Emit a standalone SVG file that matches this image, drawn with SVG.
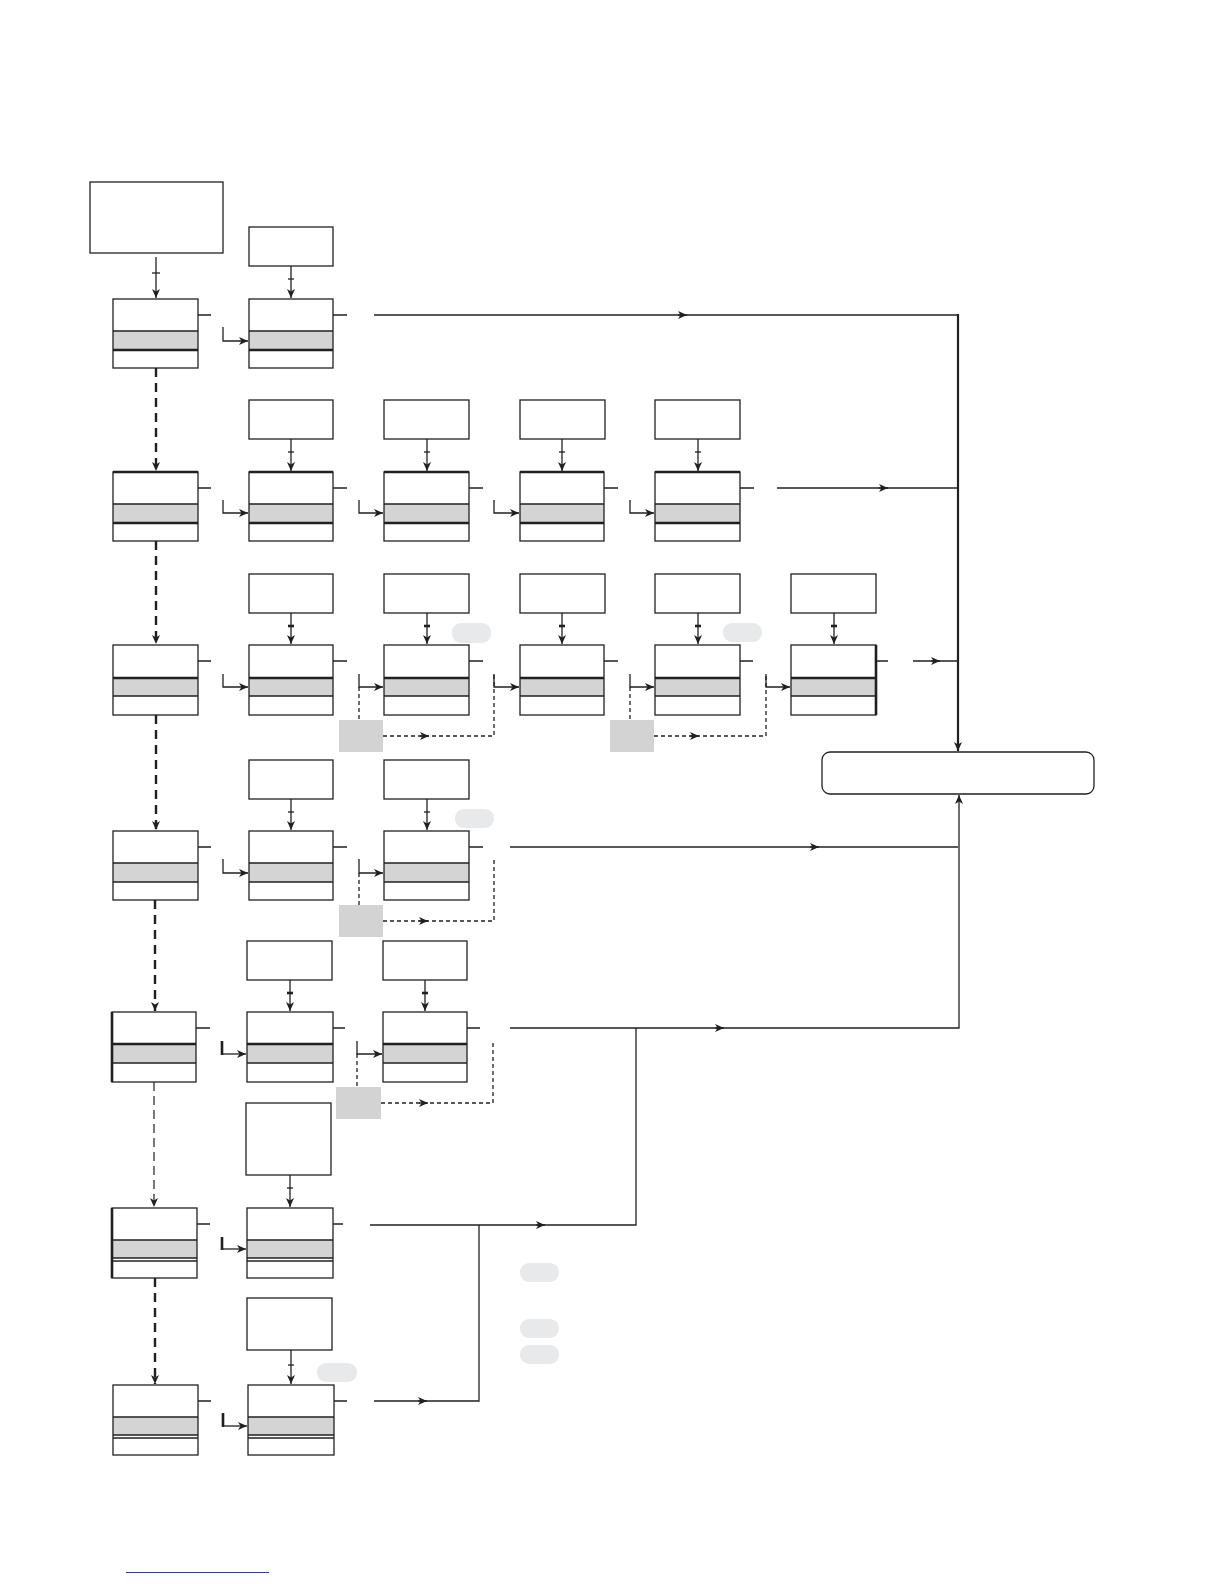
<svg xmlns="http://www.w3.org/2000/svg" width="1224" height="1584" viewBox="0 0 1224 1584">
<style>
.w{fill:#fff}
.o{fill:none;stroke:#231f20;stroke-width:1.3}
.g{fill:#d4d4d4}
.ln{fill:none;stroke:#231f20;stroke-width:1.3}
.tk{fill:none;stroke:#231f20;stroke-width:2.6}
.d{fill:none;stroke:#231f20;stroke-width:1.3;stroke-dasharray:4 3}
.dt{fill:none;stroke:#231f20;stroke-width:2.4;stroke-dasharray:9 6}
.dl{fill:none;stroke:#231f20;stroke-width:1.2;stroke-dasharray:9 5}
.gb{fill:#d3d3d3}
.bl{fill:#e8e9ea}
</style>
<defs>
<marker id="a" markerWidth="11" markerHeight="9" refX="9" refY="4.5" orient="auto" markerUnits="userSpaceOnUse"><path d="M0,0.5 L9,4.5 L0,8.5 L2.5,4.5 z" fill="#231f20"/></marker>
</defs>
<rect width="1224" height="1584" fill="#fff"/>

<!-- start box -->
<g id="start"><rect x="90" y="182" width="133" height="71" class="w"/><rect x="90" y="182" width="133" height="71" class="o"/></g>

<!-- top boxes -->
<g id="t1-2"><rect x="249" y="227" width="84" height="39" class="o"/></g>
<g id="t2-2"><rect x="249" y="400" width="84" height="39" class="o"/></g>
<g id="t2-3"><rect x="384" y="400" width="85" height="39" class="o"/></g>
<g id="t2-4"><rect x="520" y="400" width="85" height="39" class="o"/></g>
<g id="t2-5"><rect x="655" y="400" width="85" height="39" class="o"/></g>
<g id="t3-2"><rect x="249" y="574" width="84" height="39" class="o"/></g>
<g id="t3-3"><rect x="384" y="574" width="85" height="39" class="o"/></g>
<g id="t3-4"><rect x="520" y="574" width="85" height="39" class="o"/></g>
<g id="t3-5"><rect x="655" y="574" width="85" height="39" class="o"/></g>
<g id="t3-6"><rect x="791" y="574" width="85" height="39" class="o"/></g>
<g id="t4-2"><rect x="249" y="760" width="84" height="39" class="o"/></g>
<g id="t4-3"><rect x="384" y="760" width="85" height="39" class="o"/></g>
<g id="t5-2"><rect x="247" y="941" width="85" height="39" class="o"/></g>
<g id="t5-3"><rect x="383" y="941" width="84" height="39" class="o"/></g>
<g id="t6-2"><rect x="246" y="1103" width="85" height="72" class="o"/></g>
<g id="t7-2"><rect x="247" y="1298" width="85" height="52" class="o"/></g>

<!-- row 1 nodes -->
<g id="n1-1"><rect x="113" y="299" width="85" height="69" class="w"/><rect x="113" y="331" width="85" height="19" class="g"/><line x1="113" y1="331" x2="198" y2="331" class="ln"/><line x1="113" y1="350" x2="198" y2="350" class="tk"/><rect x="113" y="299" width="85" height="69" class="o"/></g>
<g id="n1-2"><rect x="249" y="299" width="84" height="69" class="w"/><rect x="249" y="331" width="84" height="19" class="g"/><line x1="249" y1="331" x2="333" y2="331" class="ln"/><line x1="249" y1="350" x2="333" y2="350" class="tk"/><rect x="249" y="299" width="84" height="69" class="o"/></g>

<!-- row 2 nodes -->
<g id="n2-1"><rect x="113" y="472" width="85" height="69" class="w"/><rect x="113" y="504" width="85" height="19" class="g"/><line x1="113" y1="504" x2="198" y2="504" class="ln"/><line x1="113" y1="523" x2="198" y2="523" class="tk"/><rect x="113" y="472" width="85" height="69" class="o"/><line x1="113" y1="472" x2="198" y2="472" class="tk"/></g>
<g id="n2-2"><rect x="249" y="472" width="84" height="69" class="w"/><rect x="249" y="504" width="84" height="19" class="g"/><line x1="249" y1="504" x2="333" y2="504" class="ln"/><line x1="249" y1="523" x2="333" y2="523" class="tk"/><rect x="249" y="472" width="84" height="69" class="o"/><line x1="249" y1="472" x2="333" y2="472" class="tk"/></g>
<g id="n2-3"><rect x="384" y="472" width="85" height="69" class="w"/><rect x="384" y="504" width="85" height="19" class="g"/><line x1="384" y1="504" x2="469" y2="504" class="ln"/><line x1="384" y1="523" x2="469" y2="523" class="tk"/><rect x="384" y="472" width="85" height="69" class="o"/><line x1="384" y1="472" x2="469" y2="472" class="tk"/></g>
<g id="n2-4"><rect x="520" y="472" width="84" height="69" class="w"/><rect x="520" y="504" width="84" height="19" class="g"/><line x1="520" y1="504" x2="604" y2="504" class="ln"/><line x1="520" y1="523" x2="604" y2="523" class="tk"/><rect x="520" y="472" width="84" height="69" class="o"/><line x1="520" y1="472" x2="604" y2="472" class="tk"/></g>
<g id="n2-5"><rect x="655" y="472" width="85" height="69" class="w"/><rect x="655" y="504" width="85" height="19" class="g"/><line x1="655" y1="504" x2="740" y2="504" class="ln"/><line x1="655" y1="523" x2="740" y2="523" class="tk"/><rect x="655" y="472" width="85" height="69" class="o"/><line x1="655" y1="472" x2="740" y2="472" class="tk"/></g>

<!-- row 3 nodes -->
<g id="n3-1"><rect x="113" y="645" width="85" height="70" class="w"/><rect x="113" y="678" width="85" height="18" class="g"/><line x1="113" y1="678" x2="198" y2="678" class="tk"/><line x1="113" y1="696" x2="198" y2="696" class="ln"/><rect x="113" y="645" width="85" height="70" class="o"/></g>
<g id="n3-2"><rect x="249" y="645" width="84" height="70" class="w"/><rect x="249" y="678" width="84" height="18" class="g"/><line x1="249" y1="678" x2="333" y2="678" class="tk"/><line x1="249" y1="696" x2="333" y2="696" class="ln"/><rect x="249" y="645" width="84" height="70" class="o"/></g>
<g id="n3-3"><rect x="384" y="645" width="85" height="70" class="w"/><rect x="384" y="678" width="85" height="18" class="g"/><line x1="384" y1="678" x2="469" y2="678" class="tk"/><line x1="384" y1="696" x2="469" y2="696" class="ln"/><rect x="384" y="645" width="85" height="70" class="o"/></g>
<g id="n3-4"><rect x="520" y="645" width="84" height="70" class="w"/><rect x="520" y="678" width="84" height="18" class="g"/><line x1="520" y1="678" x2="604" y2="678" class="tk"/><line x1="520" y1="696" x2="604" y2="696" class="ln"/><rect x="520" y="645" width="84" height="70" class="o"/></g>
<g id="n3-5"><rect x="655" y="645" width="85" height="70" class="w"/><rect x="655" y="678" width="85" height="18" class="g"/><line x1="655" y1="678" x2="740" y2="678" class="tk"/><line x1="655" y1="696" x2="740" y2="696" class="ln"/><rect x="655" y="645" width="85" height="70" class="o"/></g>
<g id="n3-6"><rect x="791" y="645" width="85" height="70" class="w"/><rect x="791" y="678" width="85" height="18" class="g"/><line x1="791" y1="678" x2="876" y2="678" class="tk"/><line x1="791" y1="696" x2="876" y2="696" class="ln"/><rect x="791" y="645" width="85" height="70" class="o"/><line x1="876" y1="645" x2="876" y2="715" class="tk"/></g>

<!-- row 4 nodes -->
<g id="n4-1"><rect x="113" y="831" width="85" height="69" class="w"/><rect x="113" y="863" width="85" height="19" class="g"/><line x1="113" y1="863" x2="198" y2="863" class="ln"/><line x1="113" y1="882" x2="198" y2="882" class="ln"/><rect x="113" y="831" width="85" height="69" class="o"/></g>
<g id="n4-2"><rect x="249" y="831" width="84" height="69" class="w"/><rect x="249" y="863" width="84" height="19" class="g"/><line x1="249" y1="863" x2="333" y2="863" class="ln"/><line x1="249" y1="882" x2="333" y2="882" class="ln"/><rect x="249" y="831" width="84" height="69" class="o"/></g>
<g id="n4-3"><rect x="384" y="831" width="85" height="69" class="w"/><rect x="384" y="863" width="85" height="19" class="g"/><line x1="384" y1="863" x2="469" y2="863" class="ln"/><line x1="384" y1="882" x2="469" y2="882" class="ln"/><rect x="384" y="831" width="85" height="69" class="o"/></g>

<!-- row 5 nodes -->
<g id="n5-1"><rect x="112" y="1012" width="84" height="70" class="w"/><rect x="112" y="1044" width="84" height="19" class="g"/><line x1="112" y1="1044" x2="196" y2="1044" class="tk"/><line x1="112" y1="1063" x2="196" y2="1063" class="ln"/><rect x="112" y="1012" width="84" height="70" class="o"/><line x1="112" y1="1012" x2="112" y2="1082" class="tk"/></g>
<g id="n5-2"><rect x="247" y="1012" width="86" height="70" class="w"/><rect x="247" y="1044" width="86" height="19" class="g"/><line x1="247" y1="1044" x2="333" y2="1044" class="tk"/><line x1="247" y1="1063" x2="333" y2="1063" class="ln"/><rect x="247" y="1012" width="86" height="70" class="o"/></g>
<g id="n5-3"><rect x="383" y="1012" width="84" height="70" class="w"/><rect x="383" y="1044" width="84" height="19" class="g"/><line x1="383" y1="1044" x2="467" y2="1044" class="tk"/><line x1="383" y1="1063" x2="467" y2="1063" class="ln"/><rect x="383" y="1012" width="84" height="70" class="o"/></g>

<!-- row 6 nodes -->
<g id="n6-1"><rect x="112" y="1208" width="85" height="70" class="w"/><rect x="112" y="1240" width="85" height="18" class="g"/><line x1="112" y1="1240" x2="197" y2="1240" class="ln"/><line x1="112" y1="1258" x2="197" y2="1258" class="ln"/><line x1="112" y1="1261" x2="197" y2="1261" class="ln"/><rect x="112" y="1208" width="85" height="70" class="o"/><line x1="112" y1="1208" x2="112" y2="1278" class="tk"/></g>
<g id="n6-2"><rect x="247" y="1208" width="86" height="70" class="w"/><rect x="247" y="1240" width="86" height="18" class="g"/><line x1="247" y1="1240" x2="333" y2="1240" class="ln"/><line x1="247" y1="1258" x2="333" y2="1258" class="ln"/><line x1="247" y1="1261" x2="333" y2="1261" class="ln"/><rect x="247" y="1208" width="86" height="70" class="o"/></g>

<!-- row 7 nodes -->
<g id="n7-1"><rect x="113" y="1385" width="85" height="70" class="w"/><rect x="113" y="1417" width="85" height="18" class="g"/><line x1="113" y1="1417" x2="198" y2="1417" class="ln"/><line x1="113" y1="1435" x2="198" y2="1435" class="ln"/><line x1="113" y1="1438" x2="198" y2="1438" class="ln"/><rect x="113" y="1385" width="85" height="70" class="o"/></g>
<g id="n7-2"><rect x="248" y="1385" width="86" height="70" class="w"/><rect x="248" y="1417" width="86" height="18" class="g"/><line x1="248" y1="1417" x2="334" y2="1417" class="ln"/><line x1="248" y1="1435" x2="334" y2="1435" class="ln"/><line x1="248" y1="1438" x2="334" y2="1438" class="ln"/><rect x="248" y="1385" width="86" height="70" class="o"/></g>

<!-- grey boxes -->
<g id="gb1"><rect x="339" y="720" width="44" height="32" class="gb"/></g>
<g id="gb2"><rect x="610" y="720" width="44" height="32" class="gb"/></g>
<g id="gb3"><rect x="339" y="905" width="44" height="32" class="gb"/></g>
<g id="gb4"><rect x="336" y="1087" width="45" height="32" class="gb"/></g>

<!-- blobs -->
<g id="blobs">
<rect x="452" y="623" width="39" height="20" rx="9" class="bl"/>
<rect x="723" y="623" width="39" height="19" rx="9" class="bl"/>
<rect x="455" y="809" width="39" height="19" rx="9" class="bl"/>
<rect x="317" y="1363" width="40" height="19" rx="9" class="bl"/>
<rect x="520" y="1263" width="39" height="19" rx="9" class="bl"/>
<rect x="520" y="1319" width="39" height="19" rx="9" class="bl"/>
<rect x="520" y="1345" width="39" height="19" rx="9" class="bl"/>
</g>

<!-- end box -->
<g id="end"><rect x="822" y="752" width="272" height="42" rx="8" class="w"/><rect x="822" y="752" width="272" height="42" rx="8" class="o"/></g>

<g id="connectors">
<!-- top arrows -->
<path d="M156,257 V298" class="ln" marker-end="url(#a)"/><path d="M152,273 H160" class="ln"/>
<path d="M291,266 V298" class="ln" marker-end="url(#a)"/><path d="M288,279 H294" class="ln"/>
<path d="M291,439 V471" class="ln" marker-end="url(#a)"/><path d="M288,452 H294" class="ln"/>
<path d="M427,439 V471" class="ln" marker-end="url(#a)"/><path d="M424,452 H430" class="ln"/>
<path d="M562,439 V471" class="ln" marker-end="url(#a)"/><path d="M559,452 H565" class="ln"/>
<path d="M698,439 V471" class="ln" marker-end="url(#a)"/><path d="M695,452 H701" class="ln"/>
<path d="M291,613 V644" class="ln" marker-end="url(#a)"/><path d="M288,626 H294" class="tk"/>
<path d="M427,613 V644" class="ln" marker-end="url(#a)"/><path d="M424,626 H430" class="tk"/>
<path d="M562,613 V644" class="ln" marker-end="url(#a)"/><path d="M559,626 H565" class="tk"/>
<path d="M698,613 V644" class="ln" marker-end="url(#a)"/><path d="M695,626 H701" class="tk"/>
<path d="M834,613 V644" class="ln" marker-end="url(#a)"/><path d="M831,626 H837" class="tk"/>
<path d="M291,799 V830" class="ln" marker-end="url(#a)"/><path d="M288,812 H294" class="ln"/>
<path d="M427,799 V830" class="ln" marker-end="url(#a)"/><path d="M424,812 H430" class="ln"/>
<path d="M290,980 V1011" class="ln" marker-end="url(#a)"/><path d="M287,993 H293" class="tk"/>
<path d="M425,980 V1011" class="ln" marker-end="url(#a)"/><path d="M422,993 H428" class="tk"/>
<path d="M290,1175 V1207" class="ln" marker-end="url(#a)"/><path d="M287,1188 H293" class="ln"/>
<path d="M291,1350 V1384" class="ln" marker-end="url(#a)"/><path d="M288,1365 H294" class="ln"/>

<!-- col1 dashed verticals -->
<path d="M156,368 V471" class="dt" marker-end="url(#a)"/>
<path d="M156,541 V644" class="dt" marker-end="url(#a)"/>
<path d="M156,715 V830" class="dt" marker-end="url(#a)"/>
<path d="M155,900 V1011" class="dt" marker-end="url(#a)"/>
<path d="M154,1082 V1207" class="dl" marker-end="url(#a)"/>
<path d="M155,1278 V1384" class="dt" marker-end="url(#a)"/>

<!-- stubs -->
<path d="M198,315 H211 M333,315 H347" class="ln"/>
<path d="M198,488 H211 M333,488 H347 M469,488 H483 M604,488 H618 M740,488 H754" class="ln"/>
<path d="M198,661 H211 M333,661 H347 M469,661 H483 M604,661 H618 M740,661 H753 M876,661 H888" class="ln"/>
<path d="M198,847 H211 M333,847 H347 M469,847 H483" class="ln"/>
<path d="M196,1028 H210 M333,1028 H345 M467,1028 H480" class="ln"/>
<path d="M197,1224 H210 M333,1224 H343" class="ln"/>
<path d="M198,1401 H211 M334,1401 H347" class="ln"/>

<!-- entry L arrows -->
<path d="M223,327 V341 H248" class="ln" marker-end="url(#a)"/>
<path d="M223,500 V513 H248" class="ln" marker-end="url(#a)"/>
<path d="M359,500 V513 H383" class="ln" marker-end="url(#a)"/>
<path d="M494,500 V513 H519" class="ln" marker-end="url(#a)"/>
<path d="M630,500 V513 H654" class="ln" marker-end="url(#a)"/>
<path d="M223,674 V687 H248" class="ln" marker-end="url(#a)"/>
<path d="M359,674 V687 H383" class="ln" marker-end="url(#a)"/>
<path d="M494,674 V687 H519" class="ln" marker-end="url(#a)"/>
<path d="M630,674 V687 H654" class="ln" marker-end="url(#a)"/>
<path d="M766,674 V687 H790" class="ln" marker-end="url(#a)"/>
<path d="M223,859 V873 H248" class="ln" marker-end="url(#a)"/>
<path d="M359,859 V873 H383" class="ln" marker-end="url(#a)"/>
<path d="M222,1054 H246" class="ln" marker-end="url(#a)"/><path d="M222,1041 V1055" class="tk"/>
<path d="M357,1041 V1054 H382" class="ln" marker-end="url(#a)"/>
<path d="M222,1249 H246" class="ln" marker-end="url(#a)"/><path d="M222,1237 V1250" class="tk"/>
<path d="M223,1426 H247" class="ln" marker-end="url(#a)"/><path d="M223,1413 V1427" class="tk"/>

<!-- dashed loops -->
<path d="M359,687 V720" class="d"/><path d="M383,736 H494 V674" class="d"/><path d="M420,736 H429" class="ln" marker-end="url(#a)"/>
<path d="M630,687 V720" class="d"/><path d="M654,736 H766 V674" class="d"/><path d="M690,736 H699" class="ln" marker-end="url(#a)"/>
<path d="M359,873 V905" class="d"/><path d="M383,921 H494 V859" class="d"/><path d="M419,921 H428" class="ln" marker-end="url(#a)"/>
<path d="M357,1054 V1087" class="d"/><path d="M381,1103 H493 V1041" class="d"/><path d="M419,1103 H428" class="ln" marker-end="url(#a)"/>

<!-- main lines -->
<path d="M374,315 H958" class="ln"/><path d="M678,315 H687" class="ln" marker-end="url(#a)"/>
<path d="M777,488 H958" class="ln"/><path d="M879,488 H888" class="ln" marker-end="url(#a)"/>
<path d="M913,661 H958" class="ln"/><path d="M931,661 H940" class="ln" marker-end="url(#a)"/>
<path d="M510,847 H958" class="ln"/><path d="M810,847 H819" class="ln" marker-end="url(#a)"/>
<path d="M510,1028 H959 V795" class="ln" marker-end="url(#a)"/><path d="M715,1028 H724" class="ln" marker-end="url(#a)"/>
<path d="M636,1028 V1225 H370" class="ln"/><path d="M536,1225 H545" class="ln" marker-end="url(#a)"/>
<path d="M479,1225 V1401 H374" class="ln"/><path d="M418,1401 H427" class="ln" marker-end="url(#a)"/>
<path d="M958,314 V751" fill="none" stroke="#231f20" stroke-width="2.2" marker-end="url(#a)"/>
</g>

<line x1="126" y1="1572.5" x2="269" y2="1572.5" stroke="#1f3fbf" stroke-width="1.2"/>
</svg>
